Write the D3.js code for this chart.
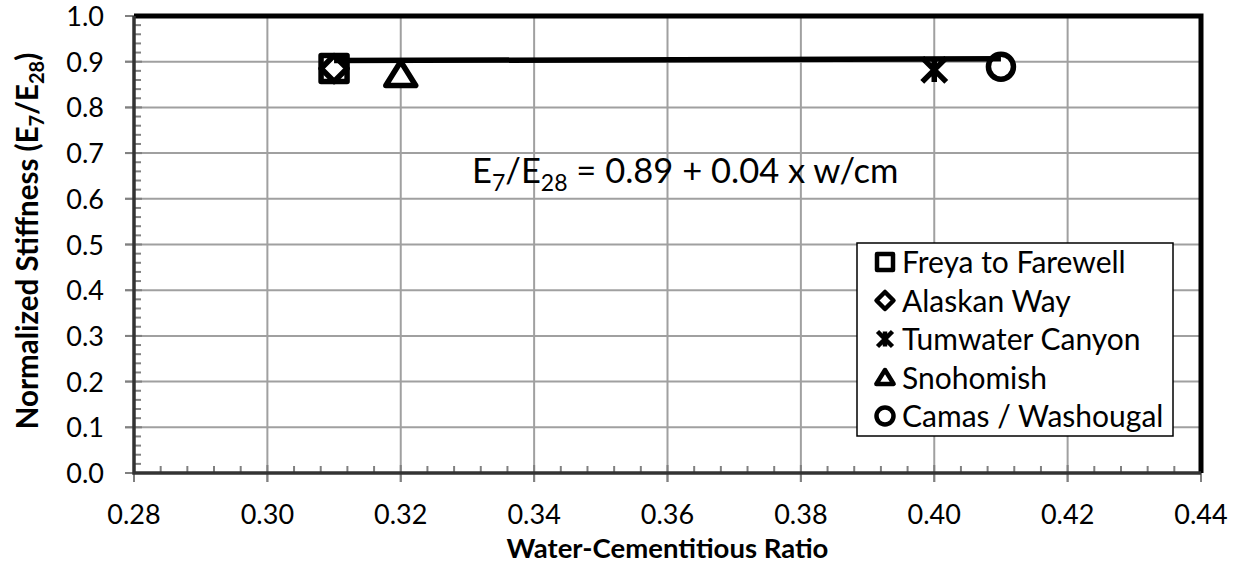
<!DOCTYPE html>
<html><head><meta charset="utf-8">
<script src="https://cdn.jsdelivr.net/npm/d3@7"></script>
<style>
html,body{margin:0;padding:0;background:#fff;}
text{font-family:Lato, "Open Sans", sans-serif;fill:#000;}
</style></head>
<body>
<svg id="chart" width="1241" height="564"></svg>
<script>
// ---- data ----
const seriesNames = ["Freya to Farewell","Alaskan Way","Tumwater Canyon","Snohomish","Camas / Washougal"];
const seriesSymbols = ["square","diamond","asterisk","triangle","circle"];
const wcRatio = [0.31, 0.31, 0.40, 0.32, 0.41];
const stiffness = [0.885, 0.885, 0.882, 0.872, 0.889];
const trendX = [0.31, 0.41];
const trendIntercept = 0.89, trendSlope = 0.04;
const xTicks = [0.28,0.30,0.32,0.34,0.36,0.38,0.40,0.42,0.44];
const yTicks = [0.0,0.1,0.2,0.3,0.4,0.5,0.6,0.7,0.8,0.9,1.0];

const svg = d3.select("#chart");
const L = 134, R = 1201, T = 16, B = 473;
const x = d3.scaleLinear().domain([0.28,0.44]).range([L,R]);
const y = d3.scaleLinear().domain([0,1]).range([B,T]);

// gridlines
const g = svg.append("g");
g.selectAll(".vg").data(xTicks).enter().append("line")
  .attr("x1",d=>x(d)).attr("x2",d=>x(d)).attr("y1",T).attr("y2",B+9)
  .attr("stroke","#a0a0a0").attr("stroke-width",2);
g.selectAll(".hg").data(yTicks).enter().append("line")
  .attr("y1",d=>y(d)).attr("y2",d=>y(d)).attr("x1",L-9).attr("x2",R)
  .attr("stroke","#a0a0a0").attr("stroke-width",2);
// minor ticks
const xMinor = d3.range(0.28,0.4401,0.004).filter(v=>Math.abs(v/0.02-Math.round(v/0.02))>0.01);
g.selectAll(".xm").data(xMinor).enter().append("line")
  .attr("x1",d=>x(d)).attr("x2",d=>x(d)).attr("y1",B).attr("y2",B-7)
  .attr("stroke","#808080").attr("stroke-width",2);
const yMinor = d3.range(0,1.0001,0.02).filter(v=>Math.abs(v/0.1-Math.round(v/0.1))>0.01);
g.selectAll(".ym").data(yMinor).enter().append("line")
  .attr("y1",d=>y(d)).attr("y2",d=>y(d)).attr("x1",L).attr("x2",L+7)
  .attr("stroke","#808080").attr("stroke-width",2);
// major ticks crossing axis
g.selectAll(".xM").data(xTicks).enter().append("line")
  .attr("x1",d=>x(d)).attr("x2",d=>x(d)).attr("y1",B-8).attr("y2",B+9)
  .attr("stroke","#808080").attr("stroke-width",2);
g.selectAll(".yM").data(yTicks).enter().append("line")
  .attr("y1",d=>y(d)).attr("y2",d=>y(d)).attr("x1",L-9).attr("x2",L+8)
  .attr("stroke","#808080").attr("stroke-width",2);

// border top/right
svg.append("path").attr("d",`M${L},${T}H${R}V${B}`).attr("fill","none")
  .attr("stroke","#000").attr("stroke-width",5);
// axes left/bottom
svg.append("path").attr("d",`M${L},${T}V${B}H${R}`).attr("fill","none")
  .attr("stroke","#333").attr("stroke-width",3.5);

// tick labels
svg.selectAll(".xl").data(xTicks).enter().append("text")
  .attr("x",d=>x(d)).attr("y",524).attr("text-anchor","middle")
  .attr("font-size",27).text(d=>d.toFixed(2));
svg.selectAll(".yl").data(yTicks).enter().append("text")
  .attr("x",104).attr("y",d=>y(d)+10).attr("text-anchor","end")
  .attr("font-size",27).text(d=>d.toFixed(1));

// axis titles
svg.append("text").attr("x",(L+R)/2).attr("y",558).attr("text-anchor","middle")
  .attr("font-size",27.5).attr("font-weight","bold").text("Water-Cementitious Ratio");
const yt = svg.append("text").attr("transform",`translate(38,241) rotate(-90)`)
  .attr("text-anchor","middle").attr("font-size",29.5).attr("font-weight","bold");
yt.append("tspan").text("Normalized Stiffness (E");
yt.append("tspan").attr("font-size",20).attr("dy",6).text("7");
yt.append("tspan").attr("dy",-6).text("/E");
yt.append("tspan").attr("font-size",20).attr("dy",6).text("28");
yt.append("tspan").attr("dy",-6).text(")");

// symbols
function sym(type, size){
  const s=size/2;
  if(type==="asterisk"){
    return `M${-s},${-s}L${s},${s}M${-s},${s}L${s},${-s}M0,${-s}L0,${s}`;
  }
  if(type==="square") return `M${-s},${-s}H${s}V${s}H${-s}Z`;
  if(type==="diamond") return `M0,${-s}L${s},0L0,${s}L${-s},0Z`;
  if(type==="triangle") return `M0,${-s}L${s*1.15},${s*0.85}H${-s*1.15}Z`;
  if(type==="circle") return `M${s},0A${s},${s} 0 1 1 ${-s},0A${s},${s} 0 1 1 ${s},0Z`;
}
const pts = seriesNames.map((n,i)=>({n,s:seriesSymbols[i],x:wcRatio[i],y:stiffness[i]}));
const drawOrder = [0,1,3,2,4];
const mSize = {square:26, diamond:26, asterisk:24, triangle:26, circle:25};
svg.selectAll(".pt").data(drawOrder.map(i=>pts[i])).enter().append("path")
  .attr("transform",d=>`translate(${x(d.x)},${y(d.y)})`)
  .attr("d",d=>sym(d.s, mSize[d.s]))
  .attr("fill",d=>d.s==="asterisk"?"none":"#fff").attr("stroke","#000")
  .attr("stroke-width",5.5).attr("stroke-linejoin","round");

// trendline
const line = d3.line().x(d=>x(d)).y(d=>y(trendIntercept+trendSlope*d));
svg.append("path").attr("d",line(trendX)).attr("stroke","#000").attr("stroke-width",5.5).attr("fill","none");

// equation
const eq = svg.append("text").attr("x",472).attr("y",183).attr("font-size",34.5);
eq.append("tspan").text("E");
eq.append("tspan").attr("font-size",23).attr("dy",8).text("7");
eq.append("tspan").attr("dy",-8).text("/E");
eq.append("tspan").attr("font-size",23).attr("dy",8).text("28");
eq.append("tspan").attr("dy",-8).text(" = 0.89 + 0.04 x w/cm");

// legend
const lg = svg.append("g");
lg.append("rect").attr("x",857).attr("y",243).attr("width",316).attr("height",193)
  .attr("fill","#fff").attr("stroke","#000").attr("stroke-width",1.5);
const lSize = {square:16, diamond:17, asterisk:15, triangle:15, circle:17};
const rows = lg.selectAll(".lr").data(pts).enter().append("g")
  .attr("transform",(d,i)=>`translate(885,${262+i*38.5})`);
rows.append("path").attr("d",d=>sym(d.s, lSize[d.s]))
  .attr("fill",d=>d.s==="asterisk"?"none":"#fff").attr("stroke","#000").attr("stroke-width",4.5)
  .attr("stroke-linejoin","round");
rows.append("text").attr("x",17).attr("y",11).attr("font-size",30).text(d=>d.n);
</script>
</body></html>
